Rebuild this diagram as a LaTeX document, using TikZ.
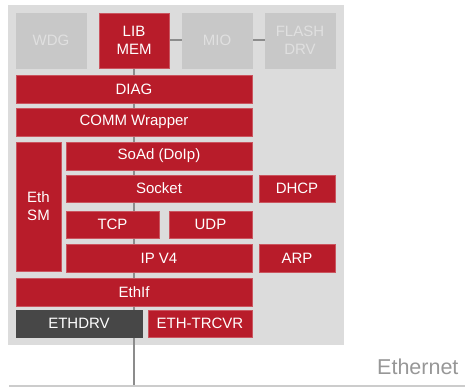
\documentclass[tikz,border=0pt]{standalone}
\usepackage{fontspec}
\setmainfont{Liberation Sans}
\usetikzlibrary{backgrounds}
\definecolor{stackred}{RGB}{184,28,42}
\definecolor{panelgray}{RGB}{220,220,220}
\definecolor{offgray}{RGB}{200,200,200}
\definecolor{offtext}{RGB}{224,224,224}
\definecolor{drvgray}{RGB}{71,71,71}
\definecolor{wiregray}{RGB}{140,140,140}

\begin{document}
\begin{tikzpicture}[x=1pt, y=-1pt,
    mod/.style = {fill=stackred, draw=stackred!75!white, line width=0.5pt, text=white,
                  inner sep=0pt, align=center, font=\fontsize{15}{18}\selectfont,
                  minimum height=28pt},
    off/.style = {mod, fill=offgray, draw=offgray, text=offtext},
    wire/.style = {draw=wiregray, line width=2pt}]
    \useasboundingbox (0,0) rectangle (465,387);

    % top row
    \node[off, minimum width=70pt, minimum height=55pt] (WDG) at (51,40.5) {WDG};
    \node[mod, minimum width=70pt, minimum height=55pt] (LIB) at (134,40.5) {LIB\\MEM};
    \node[off, minimum width=70pt, minimum height=55pt] (MIO) at (217,40.5) {MIO};
    \node[off, minimum width=70pt, minimum height=55pt] (FLS) at (300,40.5) {FLASH\\DRV};

    \node[mod, minimum width=236pt] (DIAG) at (134,89) {DIAG};
    \node[mod, minimum width=236pt] (COMM) at (134,122) {COMM Wrapper};

    \node[mod, minimum width=45pt, minimum height=129pt] (SM) at (38.5,206.5) {Eth\\SM};
    \node[mod, minimum width=186pt] (SOAD) at (159,156) {SoAd (DoIp)};
    \node[mod, minimum width=186pt, minimum height=27pt] (SOCK) at (159,188.5) {Socket};
    \node[mod, minimum width=76pt, minimum height=27pt] (DHCP) at (297,188.5) {DHCP};
    \node[mod, minimum width=93pt, minimum height=27pt] (TCP) at (112.5,224.5) {TCP};
    \node[mod, minimum width=83pt, minimum height=27pt] (UDP) at (210.5,224.5) {UDP};
    \node[mod, minimum width=186pt] (IP) at (159,258) {IP V4};
    \node[mod, minimum width=76pt] (ARP) at (297,258) {ARP};
    \node[mod, minimum width=236pt] (IF) at (134,292) {EthIf};
    \node[mod, fill=drvgray, draw=drvgray, minimum width=126pt, minimum height=27pt] (DRV) at (79,323.5) {ETHDRV};
    \node[mod, minimum width=104pt, minimum height=27pt] (TRX) at (200,323.5) {ETH-TRCVR};

    \coordinate (bus) at (134,385);
    \node[text=wiregray!90!white, font=\fontsize{21.5}{26}\selectfont, anchor=east] (ETH) at (462,367) {Ethernet};

    \begin{scope}[on background layer]
        \fill[panelgray] (8,5) rectangle (344,345);
        \draw[draw=black!20, line width=1.5pt] (9,386) -- (465,386);
        \path[wire] (LIB) -- (bus);
        \path[wire] (LIB) -- (MIO);
        \path[wire] (MIO) -- (FLS);
    \end{scope}
\end{tikzpicture}
\end{document}
